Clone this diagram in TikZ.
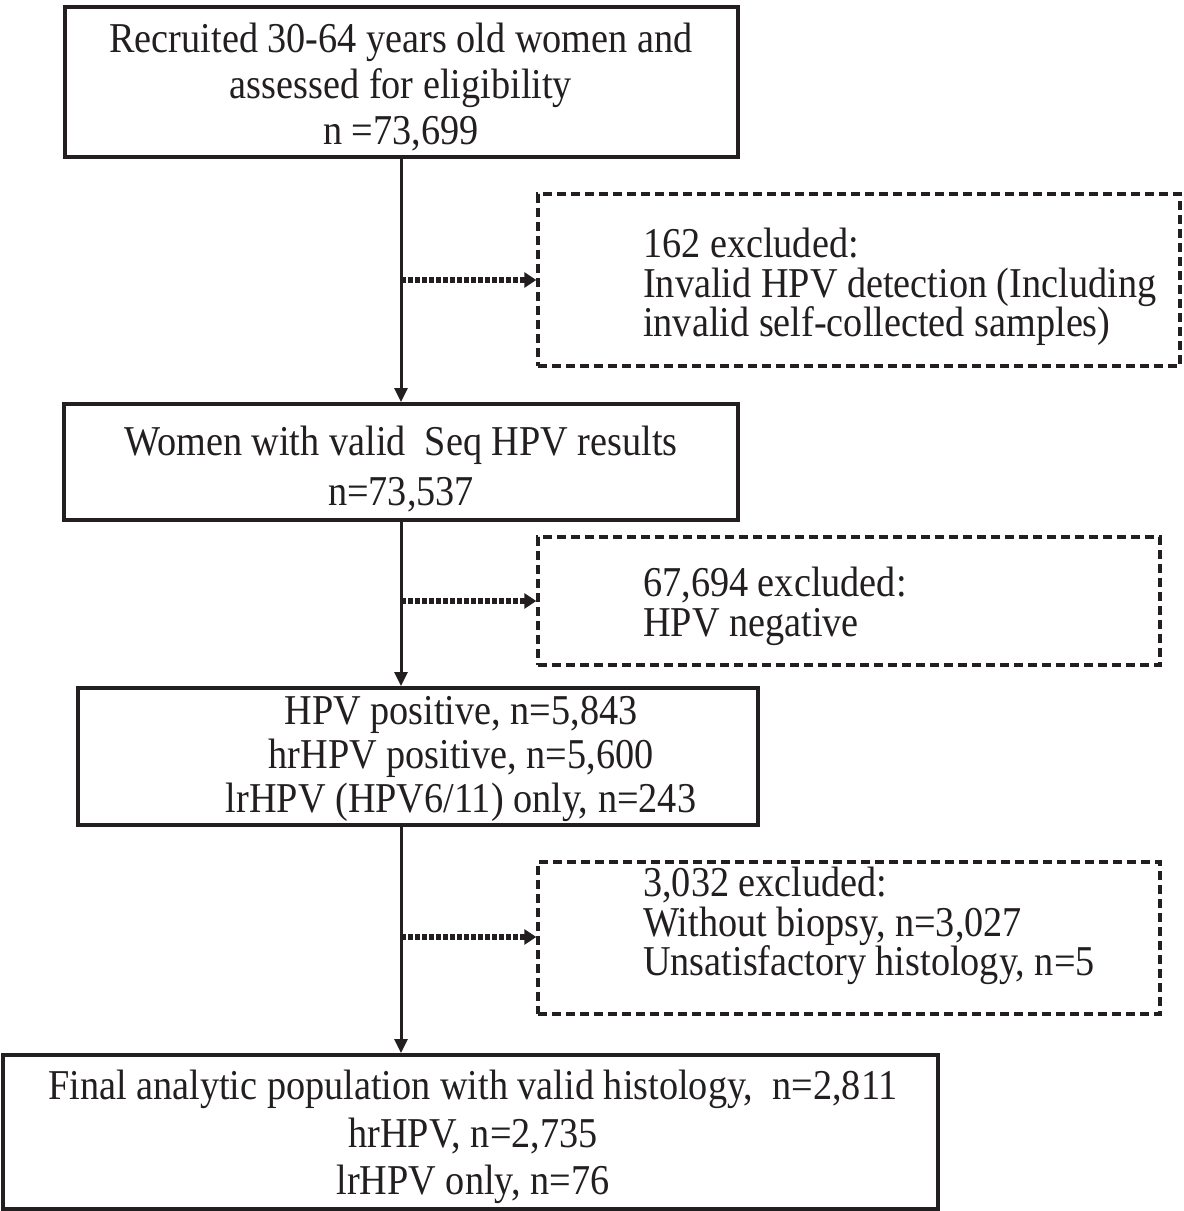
\documentclass[tikz,border=0pt]{standalone}
\usepackage{fontspec}
\setmainfont[FakeStretch=0.9]{Liberation Serif}
\usetikzlibrary{arrows.meta}
\definecolor{ink}{HTML}{231F20}
\begin{document}
\begin{tikzpicture}[x=1pt,y=-1pt,
  mainbox/.style={draw=ink, line width=4pt, inner sep=0pt, rectangle},
  exbox/.style={draw=ink, line width=3.4pt, dash pattern=on 9pt off 5pt, inner sep=0pt, rectangle},
  txt/.style={text=ink, inner sep=0pt},
  flow/.style={draw=ink, line width=3pt, -{Triangle[length=14pt,width=13pt]}},
  side/.style={draw=ink, line width=5.5pt, dash pattern=on 4.5pt off 2.5pt, -{Triangle[length=12pt,width=15pt]}}]
\path[use as bounding box, fill=white] (0,0) rectangle (1184,1211);

% main boxes
\node[mainbox, minimum width=673pt, minimum height=150pt] (b1) at (401,82) {};
\node[mainbox, minimum width=674pt, minimum height=116pt] (b2) at (401,462) {};
\node[mainbox, minimum width=680pt, minimum height=137pt] (b3) at (418,756.5) {};
\node[mainbox, minimum width=935pt, minimum height=154pt] (b4) at (470.5,1132) {};

% exclusion boxes
\node[exbox, minimum width=642pt, minimum height=172pt] (eA) at (859,280) {};
\node[exbox, minimum width=622pt, minimum height=128pt] (eB) at (849,601) {};
\node[exbox, minimum width=622pt, minimum height=152pt] (eC) at (849,938) {};

% texts
\node[txt, align=center, font=\fontsize{42.5}{46}\selectfont] (t1) at (401,87)
  {Recruited 30-64 years old women and\\assessed for eligibility\\n =73,699};
\node[txt, align=center, font=\fontsize{42.5}{50}\selectfont] (t2) at (401,469)
  {Women with valid~ Seq HPV results\\n=73,537};
\node[txt, align=center, font=\fontsize{42.5}{44}\selectfont] (t3) at (461,759)
  {HPV positive, n=5,843\\hrHPV positive, n=5,600\\lrHPV (HPV6/11) only, n=243};
\node[txt, align=center, font=\fontsize{42.5}{47.5}\selectfont] (t4) at (473,1137)
  {Final analytic population with valid histology,~ n=2,811\\hrHPV, n=2,735\\lrHPV only, n=76};
\node[txt, align=left, anchor=west, font=\fontsize{42.5}{39.5}\selectfont] (tA) at (643,287)
  {162 excluded:\\Invalid HPV detection (Including\\invalid self-collected samples)};
\node[txt, align=left, anchor=west, font=\fontsize{42.5}{40}\selectfont] (tB) at (643,606)
  {67,694 excluded:\\HPV negative};
\node[txt, align=left, anchor=west, font=\fontsize{42.5}{39.5}\selectfont] (tC) at (643,926)
  {3,032 excluded:\\Without biopsy, n=3,027\\Unsatisfactory histology, n=5};

% junctions on the main line
\coordinate (jA) at (401,280);
\coordinate (jB) at (401,601);
\coordinate (jC) at (401,937);

% main flow
\draw[flow] (b1.south) -- (b2.north);
\draw[flow] (b2.south) -- (b2.south |- b3.north);
\draw[flow] (b2.south |- b3.south) -- (b2.south |- b4.north);

% side flows
\draw[side] (jA) -- (jA -| eA.west);
\draw[side] (jB) -- (jB -| eB.west);
\draw[side] (jC) -- (jC -| eC.west);
\end{tikzpicture}
\end{document}
